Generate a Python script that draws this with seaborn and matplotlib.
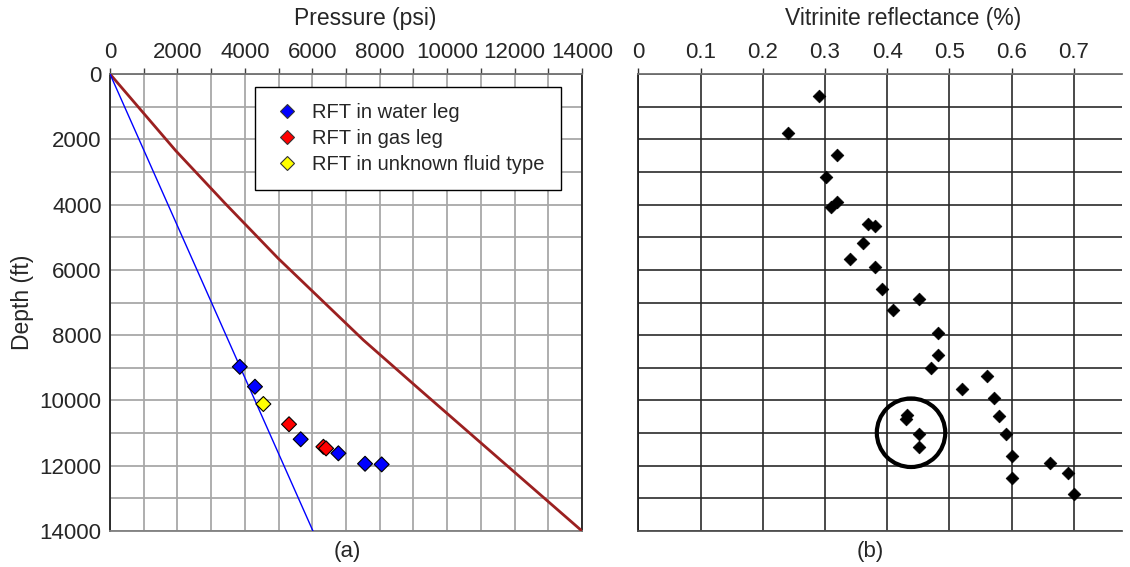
import matplotlib
matplotlib.use("Agg")
import matplotlib.pyplot as plt
import seaborn as sns
import pandas as pd
from matplotlib.lines import Line2D
from matplotlib.patches import Ellipse

sns.set_style("white")
plt.rcParams['font.family'] = ['Liberation Sans', 'DejaVu Sans']

# ---------------- data: panel (a) ----------------
rft_pressure = [3850, 4300, 5656, 6774, 7565, 8058, 5310, 6330, 6410, 4549]
rft_depth = [8970, 9580, 11190, 11620, 11940, 11960, 10730, 11420, 11470, 10110]
rft_fluid = ["RFT in water leg"] * 6 + ["RFT in gas leg"] * 3 + ["RFT in unknown fluid type"]
fluid_order = ["RFT in water leg", "RFT in gas leg", "RFT in unknown fluid type"]
fluid_colors = ["#0000ff", "#ff0000", "#ffff00"]

hydro_pressure = [0, 6020]
hydro_depth = [0, 14000]

overburden_pressure = [0, 1950, 3410, 4990, 7515, 9200, 14000]
overburden_depth = [0, 2350, 3960, 5650, 8150, 9680, 14000]

pressure_ticks = [0, 2000, 4000, 6000, 8000, 10000, 12000, 14000]
depth_ticks = [0, 2000, 4000, 6000, 8000, 10000, 12000, 14000]

# ---------------- data: panel (b) ----------------
vr_value = [0.29, 0.241, 0.32, 0.301, 0.32, 0.31, 0.370, 0.380, 0.361, 0.340,
            0.380, 0.391, 0.451, 0.410, 0.481, 0.481, 0.471, 0.560, 0.521, 0.571,
            0.4315, 0.430, 0.580, 0.451, 0.591, 0.451, 0.601, 0.661, 0.691, 0.601,
            0.701]
vr_depth = [665, 1817, 2482, 3146, 3931, 4085, 4596, 4657, 5188, 5658,
            5903, 6580, 6890, 7230, 7925, 8609, 9017, 9252, 9651, 9917,
            10447, 10580, 10468, 11029, 11039, 11417, 11694, 11927, 12214, 12368,
            12868]
vr_ticks = [0, 0.1, 0.2, 0.3, 0.4, 0.5, 0.6, 0.7]

circle_center = (0.4384, 10990)
circle_width = 0.110
circle_height = 2100

TICK_FS = 16
LABEL_FS = 16.5
LEG_FS = 14.5

df_rft = pd.DataFrame({"pressure": rft_pressure, "depth": rft_depth, "fluid": rft_fluid})
df_hydro = pd.DataFrame({"pressure": hydro_pressure, "depth": hydro_depth})
df_over = pd.DataFrame({"pressure": overburden_pressure, "depth": overburden_depth})
df_vr = pd.DataFrame({"vr": vr_value, "depth": vr_depth})

fig = plt.figure(figsize=(11.3, 5.67), dpi=100)
ax1 = fig.add_axes([110 / 1130, 36 / 567, 472 / 1130, 457 / 567])
ax2 = fig.add_axes([638.3 / 1130, 36 / 567, 484 / 1130, 457 / 567])

# ---------------- panel (a) ----------------
sns.lineplot(data=df_over, x="pressure", y="depth", ax=ax1, color="#9b2020",
             linewidth=2, estimator=None, sort=False, zorder=3)
sns.lineplot(data=df_hydro, x="pressure", y="depth", ax=ax1, color="#0000ff",
             linewidth=1, estimator=None, sort=False, zorder=3)
sns.scatterplot(data=df_rft, x="pressure", y="depth", hue="fluid",
                hue_order=fluid_order, palette=fluid_colors, marker="D", s=58,
                edgecolor="black", linewidth=0.8, ax=ax1, legend=False, zorder=4)

ax1.set_xlim(0, 14000)
ax1.set_ylim(14000, 0)
ax1.xaxis.tick_top()
ax1.xaxis.set_label_position("top")
ax1.set_xticks(pressure_ticks)
ax1.set_xticks(list(range(1000, 14000, 2000)), minor=True)
ax1.set_yticks(depth_ticks)
ax1.set_yticks(list(range(1000, 14000, 2000)), minor=True)
ax1.set_xticklabels([str(t) for t in pressure_ticks], fontsize=TICK_FS)
ax1.set_yticklabels([str(t) for t in depth_ticks], fontsize=TICK_FS)
ax1.tick_params(axis="x", which="both", direction="out", length=4, width=1,
                color="#404040", pad=4, top=True, bottom=False)
ax1.tick_params(axis="y", which="major", direction="out", length=4, width=1,
                color="#404040", pad=2)
ax1.tick_params(axis="y", which="minor", length=0)
ax1.grid(True, which="both", color="#a8a8a8", linewidth=1.3, zorder=0)
ax1.set_axisbelow(True)
ax1.set_xlabel("Pressure (psi)", fontsize=LABEL_FS)
ax1.xaxis.label.set_va("center")
ax1.xaxis.set_label_coords(0.54, 1.1225)
ax1.set_ylabel("Depth (ft)", fontsize=LABEL_FS)
ax1.yaxis.label.set_va("center")
ax1.yaxis.set_label_coords(-0.186, 0.5)
for side, col in [("left", "#202020"), ("top", "#707070"), ("right", "#202020"), ("bottom", "#808080")]:
    ax1.spines[side].set_visible(True)
    ax1.spines[side].set_color(col)
    ax1.spines[side].set_linewidth(1.3)
ax1.text(0.502, -0.045, "(a)", transform=ax1.transAxes, ha="center", va="center", fontsize=TICK_FS)

handles = [Line2D([], [], marker="D", linestyle="none", markersize=7.5,
                  markerfacecolor=c, markeredgecolor="#333333", markeredgewidth=0.8)
           for c in fluid_colors]
leg = ax1.legend(handles, fluid_order, loc="upper left", bbox_to_anchor=(0.307, 0.9716),
                 fontsize=LEG_FS, frameon=True, fancybox=False, framealpha=1,
                 edgecolor="black", borderpad=0.8, labelspacing=0.35,
                 handlelength=1.6, handletextpad=0.45, borderaxespad=0)
leg.get_frame().set_linewidth(1.0)
leg.set_zorder(5)

# ---------------- panel (b) ----------------
sns.scatterplot(data=df_vr, x="vr", y="depth", color="black", marker="D", s=42,
                edgecolor="black", linewidth=0.5, ax=ax2, zorder=4)
ax2.add_patch(Ellipse(circle_center, circle_width, circle_height, fill=False,
                      edgecolor="black", linewidth=3, zorder=5))

ax2.set_xlim(0, 0.778)
ax2.set_ylim(14000, 0)
ax2.xaxis.tick_top()
ax2.xaxis.set_label_position("top")
ax2.set_xticks(vr_ticks)
ax2.set_xticklabels([("%g" % t) for t in vr_ticks], fontsize=TICK_FS)
ax2.set_yticks(depth_ticks)
ax2.set_yticks(list(range(1000, 14000, 2000)), minor=True)
ax2.set_yticklabels([])
ax2.tick_params(axis="x", which="both", direction="out", length=4, width=1,
                color="#303030", pad=4, top=True, bottom=False)
ax2.tick_params(axis="y", which="major", direction="out", length=5, width=1,
                color="#303030")
ax2.tick_params(axis="y", which="minor", length=0)
ax2.grid(True, which="both", color="#2a2a2a", linewidth=1.2, zorder=0)
ax2.set_axisbelow(True)
ax2.set_xlabel("Vitrinite reflectance (%)", fontsize=LABEL_FS)
ax2.xaxis.label.set_va("center")
ax2.xaxis.set_label_coords(0.547, 1.1225)
ax2.set_ylabel("")
for side, col in [("left", "#202020"), ("top", "#707070"), ("bottom", "#505050")]:
    ax2.spines[side].set_visible(True)
    ax2.spines[side].set_color(col)
    ax2.spines[side].set_linewidth(1.3)
ax2.spines["right"].set_visible(False)
ax2.text(0.48, -0.045, "(b)", transform=ax2.transAxes, ha="center", va="center", fontsize=TICK_FS)

fig.savefig("out.png", dpi=100)
